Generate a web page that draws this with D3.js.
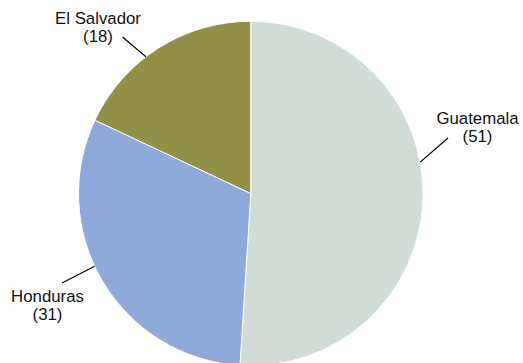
<!DOCTYPE html>
<html>
<head>
<meta charset="utf-8">
<script src="https://cdn.jsdelivr.net/npm/d3@7"></script>
<style>
  html, body { margin: 0; padding: 0; background: #fff; }
  svg { display: block; }
</style>
</head>
<body>
<svg id="pieSvg" width="523" height="363"></svg>
<script>
var countries = ["Guatemala", "Honduras", "El Salvador"];
var counts = [51, 31, 18];
var colors = ["#d0ddd6", "#8eaadb", "#929046"];

// label layout: angle on the rim (deg, clockwise from top) where the leader starts,
// leader end point and text centre
var labelLayout = [
  { angle: 79.5, lineEnd: [448, 138], text: [477.5, 124] },
  { angle: 245, lineEnd: [62, 283], text: [47.5, 302] },
  { angle: 322.5, lineEnd: [122.5, 37], text: [98, 24] }
];

var svg = d3.select("#pieSvg");
var cx = 250.8, cy = 193.5, radius = 172.3;

var data = countries.map(function (c, i) {
  return { name: c, value: counts[i], color: colors[i] };
});

var pie = d3.pie()
  .sort(null)
  .value(function (d) { return d.value; });

var arc = d3.arc().innerRadius(0).outerRadius(radius);

var g = svg.append("g")
  .attr("transform", "translate(" + cx + "," + cy + ")");

g.selectAll("path")
  .data(pie(data))
  .enter()
  .append("path")
  .attr("d", arc)
  .attr("fill", function (d) { return d.data.color; })
  .attr("stroke", "#fff")
  .attr("stroke-width", 1);

var labels = svg.append("g")
  .attr("font-family", "Arial, 'Liberation Sans', sans-serif")
  .attr("font-size", "16.8px")
  .attr("fill", "#111")
  .attr("text-anchor", "middle");

data.forEach(function (d, i) {
  var L = labelLayout[i];
  var a = L.angle * Math.PI / 180;
  var x0 = cx + radius * Math.sin(a);
  var y0 = cy - radius * Math.cos(a);
  svg.append("line")
    .attr("x1", x0).attr("y1", y0)
    .attr("x2", L.lineEnd[0]).attr("y2", L.lineEnd[1])
    .attr("stroke", "#000")
    .attr("stroke-width", 1.2);
  var t = labels.append("text")
    .attr("x", L.text[0])
    .attr("y", L.text[1]);
  t.append("tspan").attr("x", L.text[0]).text(d.name);
  t.append("tspan").attr("x", L.text[0]).attr("dy", 18).text("(" + d.value + ")");
});
</script>
</body>
</html>
